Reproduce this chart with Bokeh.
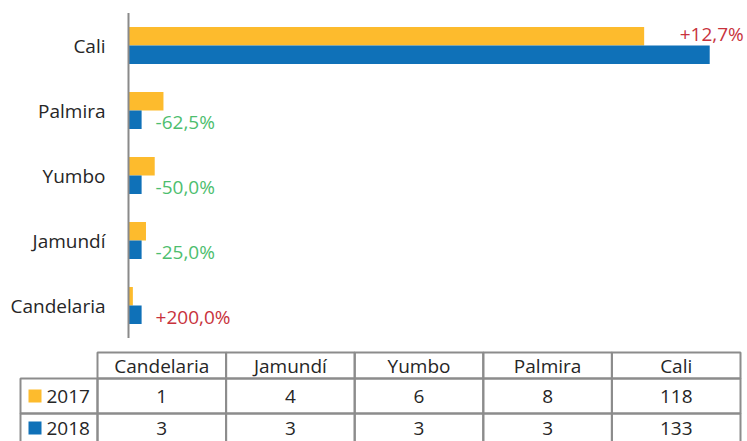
from bokeh.plotting import figure
from bokeh.models import ColumnDataSource, Range1d
from bokeh.transform import dodge
from bokeh.core.properties import value
from bokeh.embed import file_html
from bokeh.resources import INLINE

# ---- data ----
categories = ["Candelaria", "Jamundí", "Yumbo", "Palmira", "Cali"]
years = ["2017", "2018"]
values_2017 = [1, 4, 6, 8, 118]
values_2018 = [3, 3, 3, 3, 133]

# ---- style ----
FONT = "Open Sans"
C17 = "#FDBB2D"
C18 = "#0F71B8"
UP = "#C8323C"
DOWN = "#4DBE6E"
TXT = "#262626"
LINE = "#8C8C8C"
AXIS = "#8A8A8A"
FS = "19px"

W, H = 747, 441
AX_X = 128.0          # pixel position of value 0
PX_PER_UNIT = 4.37    # pixels per value unit
CAT0_Y, CAT_STEP = 305.0, 65.0   # pixel centre of first category and spacing

pct = [(b - a) / a * 100 for a, b in zip(values_2017, values_2018)]
labels = [("+" if v > 0 else "-") + f"{abs(v):.1f}".replace(".", ",") + "%" for v in pct]
lab_colors = [UP if v > 0 else DOWN for v in pct]
idx = list(range(len(categories)))

src = ColumnDataSource(dict(cat=categories, idx=idx, v17=values_2017, v18=values_2018,
                            lab=labels, col=lab_colors, zero=[0] * len(categories)))

x_range = Range1d(-AX_X / PX_PER_UNIT, (W - AX_X) / PX_PER_UNIT)
y_range = Range1d((CAT0_Y - H) / CAT_STEP, CAT0_Y / CAT_STEP)

p = figure(width=W, height=H, x_range=x_range, y_range=y_range,
           output_backend="svg", toolbar_location=None, min_border=0,
           x_axis_type=None, y_axis_type=None, outline_line_color=None)
p.extra_x_ranges = {"px": Range1d(0, W)}
p.extra_y_ranges = {"px": Range1d(H, 0)}

# ---- bar chart ----
BH = 0.285
p.hbar(y=dodge("idx", BH / 2), left=0, right="v17", height=BH,
       source=src, fill_color=C17, line_color=None)
p.hbar(y=dodge("idx", -BH / 2), left=0, right="v18", height=BH,
       source=src, fill_color=C18, line_color=None)

# category axis
p.segment(x0=[0], y0=[-0.5], x1=[0], y1=[len(categories) - 0.5],
          line_color=AXIS, line_width=2)
p.text(x="zero", y="idx", text="cat", source=src, x_offset=-23,
       text_align="right", text_baseline="middle", text_font=value(FONT),
       text_font_size=FS, text_color=TXT)

big = [i for i, v in enumerate(values_2018) if v > 50]
small = [i for i, v in enumerate(values_2018) if v <= 50]
src_big = ColumnDataSource({k: [src.data[k][i] for i in big] for k in src.data})
src_small = ColumnDataSource({k: [src.data[k][i] for i in small] for k in src.data})

p.text(x="v18", y=dodge("idx", BH / 2), text="lab", source=src_big,
       text_color="col", text_font=value(FONT), x_offset=2, y_offset=-2,
       text_align="center", text_baseline="middle", text_font_size=FS)
p.text(x="v18", y=dodge("idx", -BH / 2), text="lab", source=src_small,
       text_color="col", text_font=value(FONT), x_offset=14, y_offset=2,
       text_align="left", text_baseline="middle", text_font_size=FS)

# ---- data table (pixel ranges) ----
X0, CW, LX0 = 97.0, 128.6, 20.0
HEAD_Y0, HEAD_H, ROW_H = 352.0, 26.0, 35.0
col_x = [X0 + (i + 0.5) * CW for i in idx]
head_y = HEAD_Y0 + HEAD_H / 2
row_y = [HEAD_Y0 + HEAD_H + (r + 0.5) * ROW_H for r in range(len(years))]
PX = dict(x_range_name="px", y_range_name="px")

p.rect(x=col_x, y=[head_y] * len(categories), width=CW, height=HEAD_H,
       fill_color=None, line_color=LINE, line_width=2, **PX)
p.text(x=col_x, y=[head_y] * len(categories), text=categories, text_font_size=FS,
       text_color=TXT, text_align="center", text_baseline="middle",
       text_font=value(FONT), **PX)

series = [values_2017, values_2018]
colors = [C17, C18]
for r, (yr, vals, c) in enumerate(zip(years, series, colors)):
    y = row_y[r]
    ty = -3 if r == len(years) - 1 else 0   # keep last (cut) row's text inside page
    p.rect(x=col_x, y=[y] * len(vals), width=CW, height=ROW_H,
           fill_color=None, line_color=LINE, line_width=2, **PX)
    p.text(x=col_x, y=[y] * len(vals), text=[str(v) for v in vals], text_font_size=FS,
           text_color=TXT, text_align="center", text_baseline="middle", y_offset=ty,
           text_font=value(FONT), **PX)
    p.rect(x=[(LX0 + X0) / 2], y=[y], width=X0 - LX0, height=ROW_H,
           fill_color=None, line_color=LINE, line_width=2, **PX)
    p.rect(x=[LX0 + 14.5], y=[y], width=13, height=13, fill_color=c,
           line_color=None, y_offset=0, **PX) if False else p.rect(
        x=[LX0 + 14.5], y=[y - (3 if ty else 0)], width=13, height=13, fill_color=c,
        line_color=None, **PX)
    p.text(x=[LX0 + 26], y=[y], text=[yr], text_font_size=FS, text_color=TXT,
           text_align="left", text_baseline="middle", y_offset=ty,
           text_font=value(FONT), **PX)

open("out.html", "w").write(file_html(p, INLINE))
